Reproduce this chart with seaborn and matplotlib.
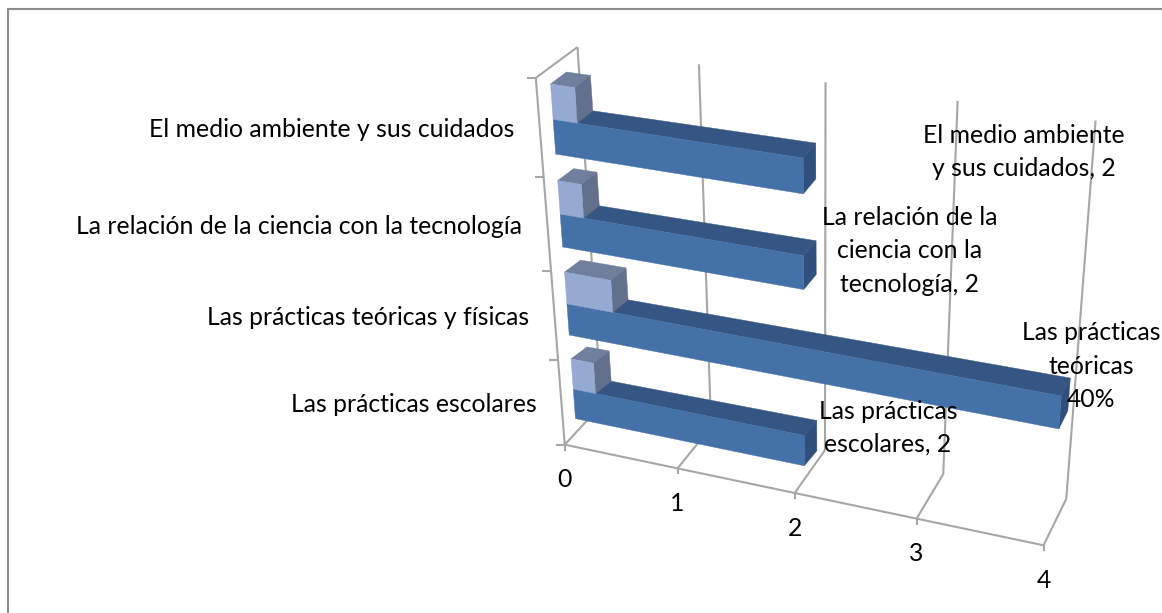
import numpy as np
import pandas as pd
import matplotlib
matplotlib.use("Agg")
import matplotlib.pyplot as plt
from matplotlib.patches import Polygon
from matplotlib.transforms import Transform
import seaborn as sns

# ---------- data ----------
categories = ["El medio ambiente y sus cuidados",
              "La relación de la ciencia con la tecnología",
              "Las prácticas teóricas y físicas",
              "Las prácticas escolares"]
frecuencia = [2, 2, 4, 2]
porcentaje = [0.2, 0.2, 0.4, 0.2]
value_ticks = [0, 1, 2, 3, 4]
data_labels = ["El medio ambiente\ny sus cuidados, 2",
               "La relación de la\nciencia con la\ntecnología, 2",
               "Las prácticas\nteóricas\n40%",
               "Las prácticas\nescolares, 2"]

# ---------- layout: projection calibration (pixels of the picture) ----------
W, H = 1162, 613
BAND = 0.72
FS = 17.8
# frame: (value, depth, height) -> pixel
FRAME_ANCHORS = [((0, 0, 0), (564, 443)), ((1, 0, 0), (677, 468)), ((2, 0, 0), (795, 493)),
                 ((3, 0, 0), (917, 519)), ((4, 0, 0), (1043, 547)),
                 ((0, 1, 0), (602, 408)), ((1, 1, 0), (712, 427)), ((2, 1, 0), (824, 450)),
                 ((3, 1, 0), (943, 472)), ((4, 1, 0), (1067, 498)),
                 ((0, 0, 1), (537, 78)), ((0, 1, 1), (577, 46)), ((1, 1, 1), (698, 65)),
                 ((2, 1, 1), (826, 82)), ((3, 1, 1), (957, 100)), ((4, 1, 1), (1096, 122))]
# plane of the bars' front faces: (value, category position) -> pixel
PLANE_ANCHORS = [((0, 0), (553, 120)), ((2, 0), (803, 158)), ((0, 1), (560, 215)), ((2, 1), (803, 257)),
                 ((0, 2), (567, 305)), ((4, 2), (1062, 398)), ((0, 3), (573, 391)), ((2, 3), (805, 436)),
                 ((0, .36), (555, 151)), ((2, .36), (803, 192)), ((0, 3.36), (575, 417)),
                 ((2, 3.36), (805, 464)), ((4, 2.36), (1058, 428)), ((0, -.36), (552, 85))]


def fit_projective(anchors):
    rows = []
    for src, (px, py) in anchors:
        s = list(src) + [1.0]
        n = len(s)
        rows.append(s + [0.0] * n + [-px * c for c in s])
        rows.append([0.0] * n + s + [-py * c for c in s])
    return np.linalg.svd(np.array(rows, float))[2][-1].reshape(3, -1)


CAM = fit_projective(FRAME_ANCHORS)
HOM = fit_projective(PLANE_ANCHORS)


def apply_proj(M, pts):
    pts = np.atleast_2d(np.asarray(pts, float))
    q = np.column_stack([pts, np.ones(len(pts))]) @ M.T
    return q[:, :2] / q[:, 2:3]


def frame(v, d, h):
    return apply_proj(CAM, [(v, d, h)])[0]


def depth(v):
    # extrusion of the bars shrinks sideways and grows upward along the value axis
    return np.array([16 - 1.75 * v, -12 - 1.5 * v])


class PlaneProj(Transform):
    input_dims = output_dims = 2
    is_separable = False
    has_inverse = False

    def transform_non_affine(self, values):
        return apply_proj(HOM, values)


# ---------- figure ----------
sns.set_theme(style="white")
plt.rcParams["font.family"] = ["Lato", "DejaVu Sans"]
fig = plt.figure(figsize=(W / 100, H / 100), dpi=100, facecolor="white")
ax = fig.add_axes([0, 0, 1, 1])

df = pd.DataFrame({"categoria": categories * 2,
                   "valor": frecuencia + porcentaje,
                   "serie": ["Frecuencia"] * 4 + ["Porcentaje"] * 4})
FRONT = {"Frecuencia": "#4472A8", "Porcentaje": "#95A9D2"}
TOP = {"Frecuencia": "#355683", "Porcentaje": "#717F9F"}
SIDE = {"Frecuencia": "#2F4F7C", "Porcentaje": "#63708C"}
order = ["Porcentaje", "Frecuencia"]
sns.barplot(data=df, x="valor", y="categoria", hue="serie", hue_order=order,
            palette=FRONT, order=categories, width=BAND, gap=0, saturation=1,
            legend=False, ax=ax)
ax.set_xlim(0, W)
ax.set_ylim(H, 0)
ax.axis("off")

# 3D faces of every bar, derived from the rectangle seaborn drew
proj = PlaneProj() + ax.transData
for serie, container in zip(order, ax.containers):
    for i, bar in enumerate(container):
        x0, y0, w, h = bar.get_x(), bar.get_y(), bar.get_width(), bar.get_height()
        z = 3 + i + (0.5 if serie == "Porcentaje" else 0)
        tl, tr, br = apply_proj(HOM, [(x0, y0), (x0 + w, y0), (x0 + w, y0 + h)])
        d0, d1 = depth(x0), depth(x0 + w)
        for verts, col in (([tl, tr, tr + d1, tl + d0], TOP[serie]),
                           ([tr, br, br + d1, tr + d1], SIDE[serie])):
            ax.add_patch(Polygon(verts, closed=True, facecolor=col, edgecolor=col,
                                 linewidth=0.3, zorder=z))
        bar.set_transform(proj)
        bar.set_edgecolor(FRONT[serie])
        bar.set_linewidth(0.3)
        bar.set_zorder(z + 0.1)

# frame
GRID = {"color": "#A6A6A6", "lw": 1.5, "zorder": 1, "solid_capstyle": "butt"}


def seg(a, b):
    ax.plot([a[0], b[0]], [a[1], b[1]], **GRID)


seg(frame(0, 0, 0), frame(value_ticks[-1], 0, 0))
seg(frame(0, 0, 0), frame(0, 0, 1))
seg(frame(0, 0, 1), frame(0, 1, 1))
for v in value_ticks:
    f = frame(v, 0, 0)
    seg(f, frame(v, 1, 0))
    seg(frame(v, 1, 0), frame(v, 1, 1))
    seg(f, f + np.array([0, 6]))
    ax.text(f[0], f[1] + 35, str(v), ha="center", va="center", fontsize=FS, color="black", zorder=9)
for k in range(len(categories) + 1):
    p = frame(0, 0, k / len(categories))
    seg(p, p - np.array([9, 0]))

# category labels, top to bottom
for i, c in enumerate(categories):
    p = frame(0, 0, (len(categories) - i - 0.5) / len(categories))
    ax.text(p[0] - 25, p[1] + 1.5, c, ha="right", va="center", fontsize=FS, color="black", zorder=9)

# data labels
LABEL_POS = [(1024, 152), (910, 251), (1091, 366), (888, 428)]
for txt, (lx, ly) in zip(data_labels, LABEL_POS):
    ax.text(lx, ly, txt, ha="center", va="center", fontsize=FS, color="black",
            linespacing=1.53, zorder=9)

# chart border
ax.plot([8, 8, W], [H, 9, 9], color="#8C8C8C", lw=1.5, zorder=0, solid_joinstyle="miter")

fig.savefig("out.png", dpi=100)
